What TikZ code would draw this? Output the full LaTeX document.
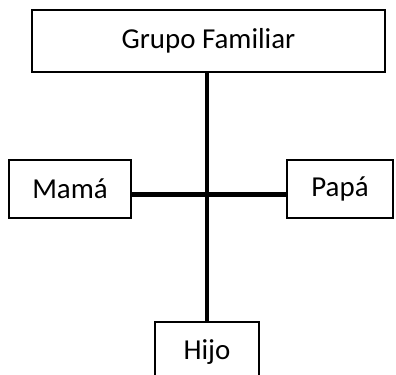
\documentclass[tikz,border=0pt]{standalone}
\usepackage{fontspec}
\setmainfont{Carlito}
\usetikzlibrary{positioning,calc}

\begin{document}
\begin{tikzpicture}
[x=1bp,y=-1bp,caja/.style={draw,line width=1.1bp,inner sep=0pt,font=\fontsize{29}{34}\selectfont},enlace/.style={line width=4.5bp}]

%Page frame
\clip (0,0) rectangle (396,375);

%Boxes
\node[caja,minimum width=353bp,minimum height=62bp] (grupo) at (208.5,41) {Grupo Familiar};
\node[caja,minimum width=122bp,minimum height=58bp] (mama) at (70,189) {Mamá};
\node[caja,minimum width=106bp,minimum height=58bp] (papa) at (340,189) {Papá};
\node[caja,minimum width=104bp,minimum height=60bp] (hijo) at (207,352) {Hijo};

%Crossing point
\coordinate (cruce) at (207,194.5);

%Joining the boxes
\draw[enlace] (grupo.south -| cruce)--(hijo.north -| cruce);
\draw[enlace] (mama.east |- cruce)--(papa.west |- cruce);

\end{tikzpicture}
\end{document}
